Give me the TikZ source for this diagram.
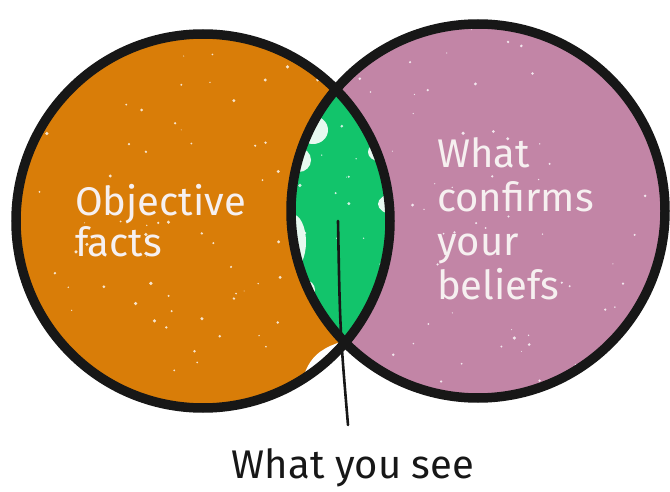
\documentclass[tikz,border=0pt]{standalone}
\usepackage{fontspec}
\setmainfont{Fira Sans}
\usetikzlibrary{positioning}

\definecolor{factorange}{HTML}{D97D08}
\definecolor{beliefpink}{HTML}{C285A6}
\definecolor{seengreen}{HTML}{12C46B}
\definecolor{chalk}{HTML}{F6F0F0}
\definecolor{ink}{HTML}{171717}

\begin{document}
\begin{tikzpicture}[x=1pt,y=-1pt,
		ring/.style={draw=ink, line width=9.5pt},
		speck/.style={fill=white, opacity=.8},
		gap/.style={fill=white, opacity=.9},
		chalktext/.style={text=chalk, align=left, anchor=north west, inner sep=0pt,
			font=\fontsize{40}{41}\selectfont},
		pointer/.style={draw=ink, line width=2.6pt, line cap=round}]
	\useasboundingbox (0,0) rectangle (670,492);
	\coordinate (L) at (203,221);
	\coordinate (R) at (478,211);
	% the two sets
	\fill[factorange] (L) circle (187);
	\fill[beliefpink] (R) circle (187);
	% where they overlap, with the paint stopping short of the rim here and there
	\begin{scope}
		\clip (L) circle (187);
		\clip (R) circle (187);
		\fill[seengreen] (L) circle (187);
		\fill[gap] (313,130) ellipse (15 and 14);
		\fill[gap] (299,160) ellipse (12 and 12);
		\fill[gap] (292,242) ellipse (14 and 28);
		\fill[gap] (305,290) ellipse (10 and 10);
		\fill[gap] (393,204) ellipse (15 and 10);
		\fill[gap] (379,152) ellipse (11 and 9);
	\end{scope}
	% unpainted corner at the bottom of the orange set
	\begin{scope}
		\clip (L) circle (187);
		\fill[white] (300,392) .. controls (305,360) and (318,352) .. (330,346)
			-- (345,340) -- (350,395) -- cycle;
	\end{scope}
	% paper grain
	\pgfmathsetseed{11}
	\begin{scope}
		\clip (L) circle (183) (R) circle (183);
		\foreach \k in {1,...,170}
			\fill[speck] (15+650*rnd, 25+385*rnd) circle (0.5+1.3*rnd);
	\end{scope}
	\draw[ring] (L) circle (187);
	\draw[ring] (R) circle (187);
	% labels
	\node[chalktext] (facts) at (75,184) {Objective\\facts};
	\node[chalktext, font=\fontsize{40}{44}\selectfont] (beliefs) at (437,137)
		{What\\confirms\\your\\beliefs};
	\node[text=ink, inner sep=0pt, font=\fontsize{40}{42}\selectfont] (seelabel) at (353,468) {What you see};
	\coordinate (seen) at (338,221);
	\coordinate (tip) at (348,425);
	\draw[pointer] (seen) .. controls (340,330) .. (tip);
\end{tikzpicture}
\end{document}
